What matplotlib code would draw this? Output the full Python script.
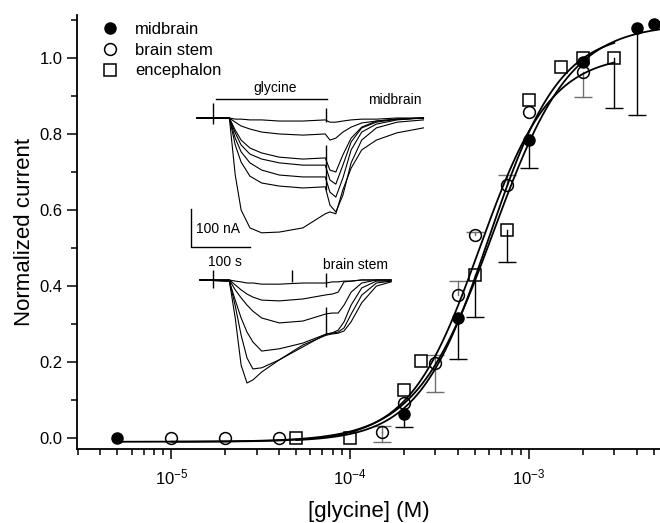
import numpy as np
import matplotlib
matplotlib.use('Agg')
import matplotlib.pyplot as plt
import matplotlib.ticker as ticker
from matplotlib.lines import Line2D

# ── Dose-response points (normalized current vs [glycine], M) ─────────────────
mid_conc   = [5e-6, 2e-4, 4e-4, 1e-3, 2e-3, 4e-3, 5e-3]
mid_resp   = [0.0, 0.063, 0.316, 0.784, 0.99, 1.08, 1.09]
mid_err_lo = [0, 0.033, 0.108, 0.074, 0, 0.23, 0]
mid_err_hi = [0, 0, 0, 0, 0, 0, 0]

bs_conc   = [1e-5, 2e-5, 4e-5, 1.5e-4, 2e-4, 3e-4, 4e-4, 5e-4, 7.5e-4, 1e-3, 2e-3]
bs_resp   = [0.0, 0.0, 0.0, 0.016, 0.092, 0.197, 0.376, 0.534, 0.666, 0.858, 0.963]
bs_err_lo = [0, 0, 0, 0.026, 0, 0.077, 0, 0, 0, 0, 0.066]
bs_err_hi = [0, 0, 0, 0.015, 0, 0.021, 0.037, 0.008, 0.026, 0, 0]

enc_conc   = [5e-5, 1e-4, 2e-4, 2.5e-4, 5e-4, 7.5e-4, 1e-3, 1.5e-3, 2e-3, 3e-3]
enc_resp   = [0.0, 0.0, 0.126, 0.203, 0.43, 0.547, 0.889, 0.976, 1.0, 1.0]
enc_err_lo = [0, 0, 0, 0, 0.112, 0.084, 0, 0, 0, 0.132]
enc_err_hi = [0, 0, 0, 0, 0, 0, 0, 0, 0, 0]

# ── Hill fits (midbrain, brain stem, encephalon) ──────────────────────────────
fit_imax  = [1.10, 1.02, 1.08]
fit_ec50  = [6.3e-4, 5.3e-4, 6.0e-4]
fit_nh    = [2.0, 2.2, 2.2]
fit_start = [5e-6, 1e-5, 5e-5]
fit_stop  = [5.4e-3, 3e-3, 3e-3]
fit_base  = -0.01

# ── Inset current traces (time in s, current in nA) ───────────────────────────
mid_t = [0, 55, 65, 75, 90, 110, 140, 180, 218, 226, 236, 248, 262, 280, 305, 340, 385]
mid_traces = [
    [0, 0, -3, -3, -5, -5, -8, -8, -5, -11, -11, -8, -5, -3, -3, 0, 0],
    [0, 0, -11, -21, -29, -37, -42, -45, -42, -58, -53, -37, -24, -13, -8, -3, 0],
    [0, 0, -32, -58, -79, -92, -103, -108, -105, -137, -142, -97, -53, -24, -8, -3, 0],
    [0, 0, -39, -71, -95, -108, -118, -124, -124, -163, -174, -124, -63, -26, -11, -3, 0],
    [0, 0, -53, -89, -118, -137, -150, -155, -155, -195, -208, -158, -84, -37, -16, -5, 0],
    [0, 0, -71, -116, -153, -171, -179, -184, -181, -229, -247, -203, -118, -58, -26, -11, -5],
    [0, 0, -150, -242, -289, -302, -300, -289, -252, -247, -252, -189, -132, -84, -58, -39, -26],
]
bs_t = [5, 55, 65, 75, 85, 95, 110, 140, 180, 220, 230, 240, 250, 262, 280, 305, 330]
bs_traces = [
    [0, 0, -3, -5, -8, -8, -11, -11, -8, -8, -5, -5, -3, -3, 0, 0, 0],
    [0, 0, -13, -26, -37, -45, -53, -55, -50, -39, -37, -32, -5, -3, 0, 0, 0],
    [0, 0, -26, -47, -66, -82, -100, -113, -108, -89, -87, -87, -66, -32, -8, 0, 0],
    [0, -3, -53, -100, -137, -163, -187, -181, -166, -142, -139, -132, -110, -66, -21, -3, -3],
    [0, -3, -68, -145, -205, -234, -231, -210, -176, -142, -140, -137, -126, -90, -40, -8, -3],
    [0, -3, -100, -224, -271, -263, -242, -210, -171, -145, -142, -140, -134, -110, -60, -16, -5],
]
# stimulus artifacts: time, top, bottom (nA)
mid_art_t   = [27, 219, 219]
mid_art_top = [39, 26, -71]
mid_art_bot = [-16, -11, -189]
bs_art_t    = [27, 162, 219, 219]
bs_art_top  = [26, 26, 18, -71]
bs_art_bot  = [-21, -5, -18, -145]

plt.rcParams.update({
    'font.family':      'Liberation Sans',
    'mathtext.fontset': 'custom',
    'mathtext.rm':      'Liberation Sans',
    'mathtext.it':      'Liberation Sans:italic',
    'font.size':        12,
})

fig = plt.figure(figsize=(6.6, 5.23), dpi=100)
ax = fig.add_axes([77 / 660, 1 - 449 / 523, 583 / 660, 434 / 523])

# ── Fitted curves ─────────────────────────────────────────────────────────────
for imax, ec50, nh, x0, x1 in zip(fit_imax, fit_ec50, fit_nh, fit_start, fit_stop):
    xs = np.logspace(np.log10(x0), np.log10(x1), 300)
    ys = fit_base + imax * xs**nh / (ec50**nh + xs**nh)
    ax.plot(xs, ys, color='black', lw=1.3, zorder=2)

# ── Error bars (stem + cap) ───────────────────────────────────────────────────
def draw_err(conc, resp, lo, hi, color):
    for x, y, a, b in zip(conc, resp, lo, hi):
        for d in (-a, b):
            if d != 0:
                ax.plot([x, x], [y, y + d], color=color, lw=1.0, zorder=1)
                ax.plot([x], [y + d], marker='_', markersize=13,
                        markeredgewidth=1.0, color=color, zorder=1)

draw_err(mid_conc, mid_resp, mid_err_lo, mid_err_hi, 'black')
draw_err(bs_conc, bs_resp, bs_err_lo, bs_err_hi, '#707070')
draw_err(enc_conc, enc_resp, enc_err_lo, enc_err_hi, 'black')

# ── Points ────────────────────────────────────────────────────────────────────
ax.plot(mid_conc, mid_resp, 'o', ms=8, mfc='black', mec='black', ls='none', zorder=4)
ax.plot(bs_conc, bs_resp, 'o', ms=8.5, mfc='none', mec='black', mew=1.1, ls='none', zorder=4)
ax.plot(enc_conc, enc_resp, 's', ms=8, mfc='none', mec='black', mew=1.1, ls='none', zorder=4)

ax.set_xscale('log')
ax.set_xlim(2.97e-6, 5.4e-3)
ax.set_ylim(-0.029, 1.113)
ax.yaxis.set_major_locator(ticker.MultipleLocator(0.2))
ax.yaxis.set_minor_locator(ticker.MultipleLocator(0.1))
ax.yaxis.set_major_formatter(ticker.FormatStrFormatter('%.1f'))
ax.xaxis.set_major_locator(ticker.LogLocator(base=10))
ax.xaxis.set_minor_locator(ticker.LogLocator(base=10, subs=np.arange(2, 10)))
ax.xaxis.set_minor_formatter(ticker.NullFormatter())
ax.spines['top'].set_visible(False)
ax.spines['right'].set_visible(False)
for s in ('left', 'bottom'):
    ax.spines[s].set_linewidth(1.3)
ax.tick_params(which='major', direction='out', length=7, width=1.1, labelsize=12)
ax.tick_params(which='minor', direction='out', length=4.5, width=1.1)
ax.tick_params(axis='x', pad=6)

ax.set_xlabel('[glycine] (M)', fontsize=16, labelpad=10)
ax.set_ylabel('Normalized current', fontsize=16, labelpad=3)

handles = [
    Line2D([], [], marker='o', ls='none', ms=8, mfc='black', mec='black'),
    Line2D([], [], marker='o', ls='none', ms=8.5, mfc='none', mec='black', mew=1.1),
    Line2D([], [], marker='s', ls='none', ms=8, mfc='none', mec='black', mew=1.1),
]
ax.legend(handles, ['midbrain', 'brain stem', 'encephalon'],
          loc='upper left', bbox_to_anchor=(0.031, 1.0), frameon=False,
          fontsize=12, handlelength=1.0, handletextpad=1.0,
          labelspacing=0.35, borderaxespad=0)

# ── Inset: current recordings ─────────────────────────────────────────────────
ax_in = fig.add_axes([185 / 660, 1 - 400 / 523, 250 / 660, 315 / 523])
ax_in.set_xlim(-20.4, 404.6)
ax_in.set_ylim(-741.7, 86.8)
ax_in.axis('off')

BS_OFFSET = -426
for tr in mid_traces:
    ax_in.plot(mid_t, tr, color='black', lw=0.8)
for tr in bs_traces:
    ax_in.plot(bs_t, np.array(tr) + BS_OFFSET, color='black', lw=0.8)
ax_in.vlines(mid_art_t, mid_art_bot, mid_art_top, color='black', lw=1.0)
ax_in.vlines(bs_art_t, np.array(bs_art_bot) + BS_OFFSET,
             np.array(bs_art_top) + BS_OFFSET, color='black', lw=1.0)

# glycine application bar
ax_in.plot([32, 221], [50, 50], color='black', lw=1.0)
ax_in.text(133, 60, 'glycine', fontsize=10, ha='center', va='bottom')
ax_in.text(382, 47, 'midbrain', fontsize=10, ha='right', va='center')
ax_in.text(214, -387, 'brain stem', fontsize=10, ha='left', va='center')

# scale bars: 100 nA / 100 s
ax_in.plot([-10, -10, 90], [-240, -340, -340], color='black', lw=1.0)
ax_in.text(-2, -292, '100 nA', fontsize=10, ha='left', va='center')
ax_in.text(19, -379, '100 s', fontsize=10, ha='left', va='center')

fig.savefig('out.png', dpi=100, facecolor='white')
